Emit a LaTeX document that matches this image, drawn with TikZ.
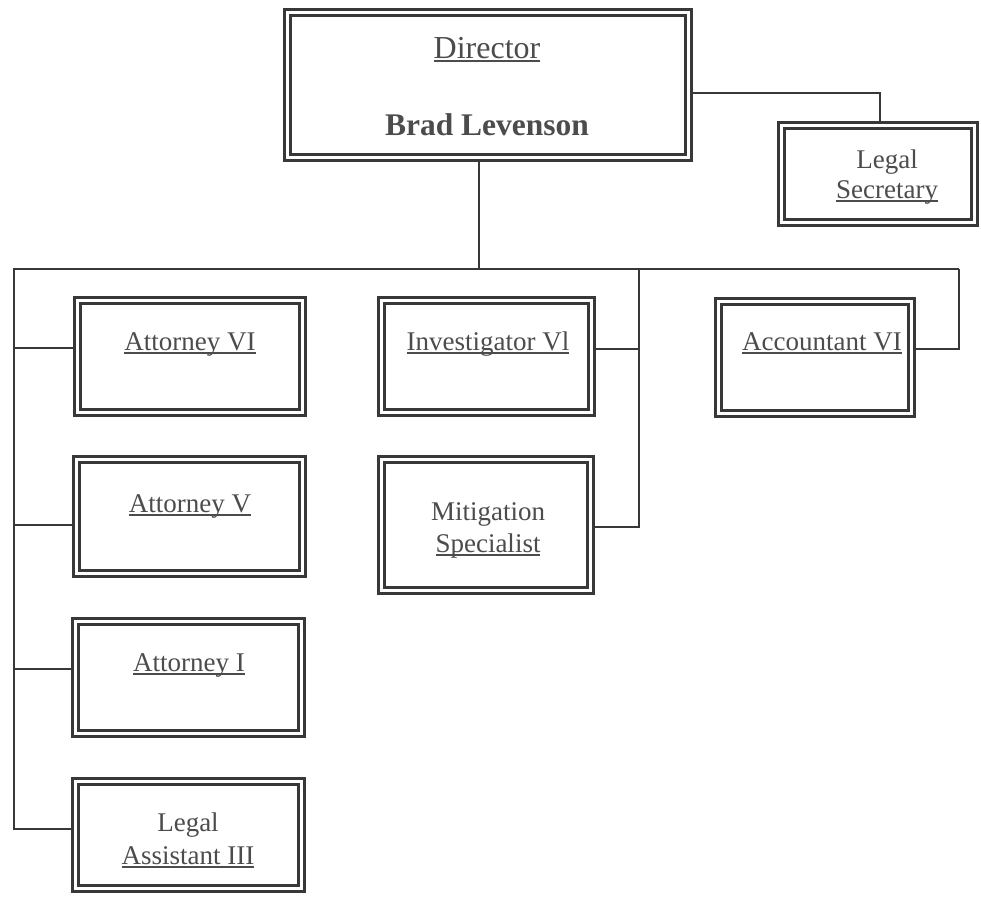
\documentclass[tikz,border=0pt]{standalone}
\usepackage{fontspec}
\setmainfont{Liberation Serif}
\usetikzlibrary{backgrounds}
\definecolor{linec}{gray}{0.22}
\definecolor{textc}{gray}{0.30}
\newcommand\myul[1]{\leavevmode\setbox0\hbox{#1}\rlap{\rule[-3.5pt]{\wd0}{1.4pt}}\box0}
\tikzset{
  box/.style={draw=linec, line width=3pt, double=white, double distance=3pt, fill=white, inner sep=0pt},
  txt/.style={anchor=base, inner sep=0pt, text=textc, font=\fontsize{27}{30}\selectfont},
  bigtxt/.style={txt, font=\fontsize{32}{36}\selectfont},
  conn/.style={draw=linec, line width=1.5pt}
}
\begin{document}
\begin{tikzpicture}[x=1pt,y=-1pt]
\useasboundingbox (0,0) rectangle (981,897);
% boxes
\node[box, minimum width=401, minimum height=145] (dir) at (488,85) {};
\node[box, minimum width=193, minimum height=97] (sec) at (878,174) {};
\node[box, minimum width=225, minimum height=112] (att6) at (190,356.5) {};
\node[box, minimum width=226, minimum height=114] (att5) at (189.5,516.5) {};
\node[box, minimum width=226, minimum height=112] (att1) at (188.5,677.5) {};
\node[box, minimum width=226, minimum height=107] (la3) at (188.5,835) {};
\node[box, minimum width=210, minimum height=112] (inv) at (486.5,356.5) {};
\node[box, minimum width=209, minimum height=131] (mit) at (486,525) {};
\node[box, minimum width=193, minimum height=112] (acc) at (815,357.5) {};
% texts
\node[bigtxt] (dirt) at (487,58) {\myul{Director}};
\node[bigtxt, font=\fontsize{31.5}{36}\selectfont\bfseries] (dirn) at (487,135) {Brad Levenson};
\node[txt] (sect1) at (887,168) {Legal};
\node[txt] (sect2) at (887,198) {\myul{Secretary}};
\node[txt] (att6t) at (190,350) {\myul{Attorney VI}};
\node[txt] (att5t) at (190,512) {\myul{Attorney V}};
\node[txt] (att1t) at (189,671) {\myul{Attorney I}};
\node[txt] (la3t1) at (188,831) {Legal};
\node[txt] (la3t2) at (188,864) {\myul{Assistant III}};
\node[txt] (invt) at (488,350) {\myul{Investigator Vl}};
\node[txt] (acct) at (822,350) {\myul{Accountant VI}};
\node[txt] (mitt1) at (488,520) {Mitigation};
\node[txt] (mitt2) at (488,552) {\myul{Specialist}};
% connector points
\coordinate (busL) at (14,269);
\coordinate (busR) at (959,269);
\coordinate (busM) at (639,269);
\coordinate (dirE) at ([yshift=-8pt]dir.east);
\coordinate (secN) at ([xshift=2pt]sec.north);
\coordinate (dirS) at ([xshift=-9pt]dir.south);
\coordinate (la3W) at ([yshift=6pt]la3.west);
\coordinate (att6W) at ([yshift=8.5pt]att6.west);
\coordinate (att5W) at ([yshift=-8.5pt]att5.west);
\coordinate (att1W) at ([yshift=8.5pt]att1.west);
\coordinate (mitE) at ([yshift=-2pt]mit.east);
\coordinate (invE) at ([yshift=7.5pt]inv.east);
\coordinate (accE) at ([yshift=8.5pt]acc.east);
\begin{scope}[on background layer]
\draw[conn] (dirE) -| (secN);
\draw[conn] (dirS) -- (dirS |- busL);
\draw[conn] (busR) -- (busL) -- (busL |- la3W) -- (la3W);
\draw[conn] (busL |- att6W) -- (att6W);
\draw[conn] (busL |- att5W) -- (att5W);
\draw[conn] (busL |- att1W) -- (att1W);
\draw[conn] (busM) -- (busM |- mitE) -- (mitE);
\draw[conn] (busM |- invE) -- (invE);
\draw[conn] (busR) -- (busR |- accE) -- (accE);
\end{scope}
\end{tikzpicture}
\end{document}
